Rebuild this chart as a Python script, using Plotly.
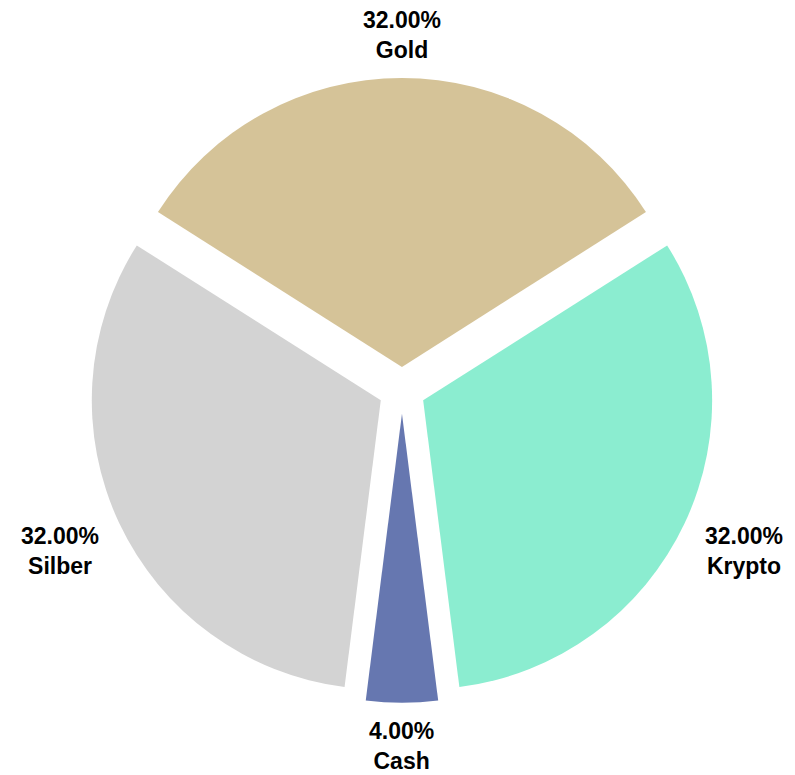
import math
import plotly.graph_objects as go

# Anteile
labels = ["Gold", "Krypto", "Cash", "Silber"]
werte = [32, 32, 4, 32]
farben = ["#d5c398", "#8bedd0", "#6677b0", "#d3d3d3"]

W, H = 795, 775
pull = 0.081
dom_x = [0.1026, 0.8885]
dom_y = [0.1036, 0.9098]
summe = sum(werte)
# erstes Segment oben zentriert
rotation = -360 * werte[0] / summe / 2

fig = go.Figure()
fig.add_trace(
    go.Pie(
        labels=labels,
        values=werte,
        sort=False,
        direction="clockwise",
        rotation=rotation,
        pull=pull,
        marker=dict(colors=farben, line=dict(width=0)),
        textinfo="none",
        domain=dict(x=dom_x, y=dom_y),
        showlegend=False,
        hoverinfo="label+percent",
    )
)

#--- Beschriftungen außerhalb, Richtung Segmentmitte
cx = W * (dom_x[0] + dom_x[1]) / 2
cy = H * (1 - (dom_y[0] + dom_y[1]) / 2)
r = min(W * (dom_x[1] - dom_x[0]), H * (dom_y[1] - dom_y[0])) / 2 / (1 + pull)
abstand = r * (1 + pull) + 19
hw, hh = 42, 24
kum = 0
for lab, v in zip(labels, werte):
    winkel = math.radians(rotation + 360 * (kum + v / 2) / summe)
    kum += v
    sx, sy = math.sin(winkel), math.cos(winkel)
    t = min(hw / abs(sx) if abs(sx) > 1e-6 else 1e9, hh / abs(sy) if abs(sy) > 1e-6 else 1e9)
    px = cx + sx * (abstand + t)
    py = cy - sy * (abstand + t)
    fig.add_annotation(
        x=px / W, y=1 - py / H, xref="paper", yref="paper",
        text=f"{v / summe * 100:.2f}%<br>{lab}",
        showarrow=False, xanchor="center", yanchor="middle",
        font=dict(family="Liberation Sans, Arial", size=23, color="black", weight="bold"),
    )

fig.update_layout(
    width=W,
    height=H,
    margin=dict(l=0, r=0, t=0, b=0),
    paper_bgcolor="white",
    plot_bgcolor="white",
)
fig.write_html("out.html")
